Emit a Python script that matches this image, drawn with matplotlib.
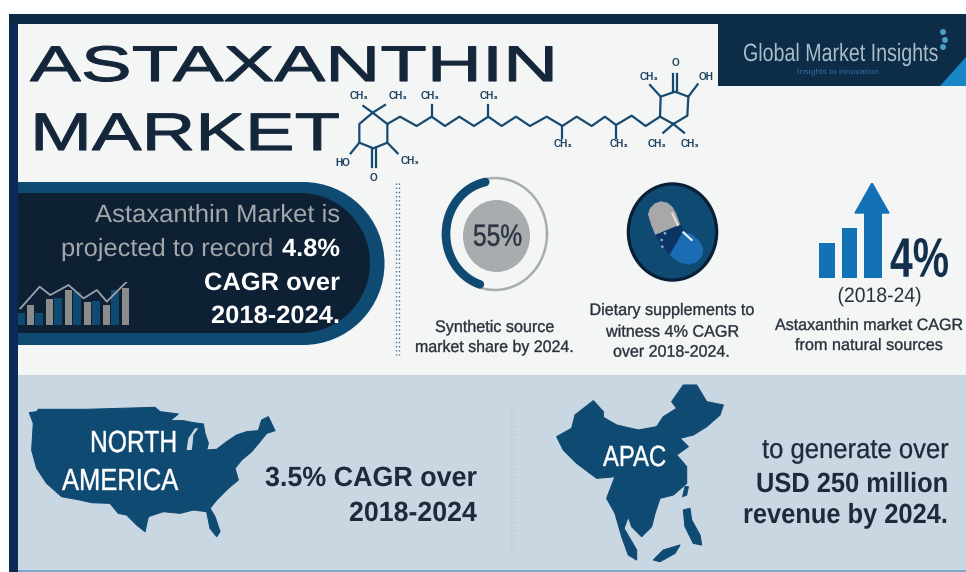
import numpy as np
import matplotlib
matplotlib.use("Agg")
import matplotlib.pyplot as plt
from matplotlib.patches import Rectangle, Circle, Ellipse, Polygon
from matplotlib.patheffects import AbstractPathEffect
from matplotlib.transforms import Affine2D

# ---- data ----
SYNTHETIC_SHARE_LABEL = "55%"
NATURAL_CAGR_LABEL = "4%"
mini_gray_bars = [60, 78, 105, 70, 60, 110]
mini_blue_bars = [35, 80, 98, 72, 105]
mini_line_x = [-0.52, 0.49, 1.05, 2.01, 2.8, 3.5, 4.02, 5.07]
mini_line_y = [50, 115, 90, 120, 80, 105, 70, 130]
trend_bars = [35, 50, 65]

W, H = 966, 572
NAVY = "#12263c"
BLUE = "#0f4a73"
BRIGHT = "#1272b5"
GRAY = "#a3a7a9"
TEXT = "#27313b"
SANS = "Liberation Sans"

fig = plt.figure(figsize=(W / 100, H / 100), dpi=100, facecolor="white")
ax = fig.add_axes([0, 0, 1, 1])
ax.set_xlim(0, W)
ax.set_ylim(H, 0)
ax.axis("off")


class HScale(AbstractPathEffect):
    """Stretch a text line horizontally about its anchor, optionally thickening it."""
    def __init__(self, sx, x0, stroke=0.0):
        super().__init__()
        self.sx, self.x0, self.stroke = sx, x0, stroke

    def draw_path(self, renderer, gc, tpath, affine, rgbFace=None):
        t = affine + Affine2D().translate(-self.x0, 0).scale(self.sx, 1).translate(self.x0, 0)
        g = renderer.new_gc()
        g.copy_properties(gc)
        if self.stroke > 0:
            g.set_linewidth(self.stroke)
            g.set_foreground(rgbFace)
        renderer.draw_path(g, tpath, t, rgbFace)
        g.restore()


renderer = fig.canvas.get_renderer()


def fit(x0, x1, base, s, size, color=TEXT, weight="normal", stroke=0.0, zorder=10):
    """Real text whose ink runs from x0 to x1 with the given baseline, in pixels."""
    xm = (x0 + x1) / 2
    t = ax.text(xm, base, s, fontsize=size, color=color, family=SANS, weight=weight,
                ha="center", va="baseline", zorder=zorder)
    w = t.get_window_extent(renderer).width
    anchor = ax.transData.transform((xm, base))[0]
    t.set_path_effects([HScale((x1 - x0) / w, anchor, stroke)])
    return t


def rect(x0, y0, x1, y1, c, z=1):
    ax.add_patch(Rectangle((x0, y0), x1 - x0, y1 - y0, fc=c, ec="none", zorder=z))


def inset(x0, y0, x1, y1):
    a = fig.add_axes([x0 / W, 1 - y1 / H, (x1 - x0) / W, (y1 - y0) / H], zorder=5)
    a.axis("off")
    a.patch.set_alpha(0)
    return a


# ---- backgrounds ----
rect(18, 24, W, 375, "#f4f5f5")
rect(18, 375, W, 570, "#c9d7e2")
rect(18, 570, W, 572, "#7fa7c9")
rect(9, 14, 18, 572, "#0a2a55", 4)
rect(9, 14, W, 24, "#0c2a45", 4)
rect(718, 14, W, 86, "#0c2c47", 4)
ax.add_patch(Polygon([(940, 86), (966, 86), (966, 57)], fc="#1a86c7", ec="none", zorder=5))
for (dx, dy) in [(943, 32), (945, 40), (943, 47)]:
    ax.add_patch(Circle((dx, dy), 3, fc="#4d9cc4", ec="none", zorder=5))

# ---- logo and title ----
fit(743, 938, 61, "Global Market Insights", 18, "#a9bcc8", zorder=6)
fit(797, 882, 74, "Insights to innovation.", 5.5, "#2d6f9a", zorder=6)
fit(30, 558, 81, "ASTAXANTHIN", 36, "#14263a", stroke=0.8)
fit(30, 340, 150, "MARKET", 38, "#14263a", stroke=0.8)

# ---- molecule ----
def mp(pts):
    a = np.array(pts, float)
    return a[:, 0] / 3 + 330, a[:, 1] / 3 + 50

mol = [
    [(172, 222), (128, 188), (88, 222), (88, 278), (130, 295), (172, 278), (172, 222)],
    [(128, 188), (100, 168)], [(128, 188), (165, 165)], [(172, 278), (203, 310)],
    [(125, 295), (125, 350)], [(137, 295), (137, 350)], [(88, 278), (62, 310)],
    [(172, 222), (210, 200), (260, 228), (305, 200), (345, 228), (388, 200), (432, 228),
     (475, 200), (515, 228), (558, 200), (600, 228), (650, 200), (697, 228), (740, 200),
     (785, 228), (825, 200), (858, 225), (905, 197), (947, 228), (990, 200)],
    [(305, 200), (305, 165)], [(475, 200), (475, 165)], [(697, 228), (697, 265)], [(858, 225), (858, 265)],
    [(990, 200), (992, 140), (1035, 125), (1075, 140), (1072, 197), (1030, 222), (990, 200)],
    [(992, 140), (960, 105)], [(1029, 125), (1029, 72)], [(1041, 125), (1041, 72)],
    [(1075, 140), (1103, 103)], [(1030, 222), (1000, 248)], [(1030, 222), (1062, 248)],
]
for seg in mol:
    xs, ys = mp(seg)
    ax.plot(xs, ys, color="#174a70", lw=1.6, solid_joinstyle="round", zorder=6)
labels = [(88, 138, "CH₃"), (205, 138, "CH₃"), (300, 138, "CH₃"), (478, 138, "CH₃"), (240, 332, "CH₃"),
          (700, 282, "CH₃"), (868, 282, "CH₃"), (982, 282, "CH₃"), (1080, 282, "CH₃"), (958, 80, "CH₃"),
          (1127, 80, "OH"), (1037, 40, "O"), (38, 338, "HO"), (132, 385, "O")]
for x, y, s in labels:
    ax.text(x / 3 + 330, y / 3 + 50, s, fontsize=7.2, color="#1e4260", weight="bold",
            family=[SANS, "DejaVu Sans"], ha="center", va="center", zorder=7)

# ---- pill ----
rect(18, 182, 303, 345, BLUE, 2)
ax.add_patch(Ellipse((303, 263.5), 163, 163, fc=BLUE, ec="none", zorder=2))
rect(18, 193, 300, 333, "#0e2034", 3)
ax.add_patch(Ellipse((300, 263), 140, 140, fc="#0e2034", ec="none", zorder=3))
fit(95, 340, 222, "Astaxanthin Market is", 18, GRAY)
fit(61, 273, 256, "projected to record", 18, GRAY)
fit(282, 340, 256, "4.8%", 18, "white", "bold")
fit(204, 340, 290, "CAGR over", 18, "white", "bold")
fit(211, 340, 323, "2018-2024.", 18, "white", "bold")

m = inset(17, 281.7, 130, 325)
m.set_xlim(-0.7, 5.24)
m.set_ylim(0, 130)
m.bar(np.arange(6), mini_gray_bars, width=0.39, color="#8c8c8c", zorder=2)
m.bar(np.arange(5) + 0.47, mini_blue_bars, width=0.42, color=BLUE, zorder=1)
m.bar([-0.47], [35], width=0.4, color=BLUE, zorder=1)
m.plot(mini_line_x, mini_line_y, color="#9aa3aa", lw=1.3, zorder=3)

# ---- dotted separators ----
for xd in (396, 399):
    ax.plot([xd, xd], [183, 355], color="#3f6f95", lw=1, ls=(0, (1, 2)), zorder=3)
for xd in (511, 514):
    ax.plot([xd, xd], [405, 555], color="#b6c6d2", lw=1, ls=(0, (1, 2)), zorder=3)

# ---- donut ----
th = np.radians(np.linspace(0, 360, 361))
ax.plot(495 + 52 * np.cos(th), 234 - 56 * np.sin(th), color="#a9adaf", lw=1.8, zorder=5)
th = np.radians(np.linspace(101.5, 252, 200))
ax.plot(495 + 49 * np.cos(th), 234 - 53 * np.sin(th), color=BLUE, lw=6.2,
        solid_capstyle="round", zorder=6)
ax.add_patch(Ellipse((496.5, 236), 67, 72, fc="#a9acae", ec="none", zorder=5))
fit(473, 522, 245.7, SYNTHETIC_SHARE_LABEL, 22, "#2a3442", stroke=0.3, zorder=7)
fit(435, 554.5, 332, "Synthetic source", 12, stroke=0.25)
fit(415, 574, 352, "market share by 2024.", 12, stroke=0.25)

# ---- capsule icon ----
ax.add_patch(Ellipse((672.5, 232), 91.6, 99.4, fc="#081f36", ec="none", zorder=5))
ax.add_patch(Ellipse((672.5, 232), 85, 93, fc=BLUE, ec="none", zorder=5))


def cp(pts):
    return [(x / 3 + 435, y / 3 + 175) for x, y in pts]


capsule_parts = [
    ([(640, 118), (646, 100), (660, 86), (678, 80), (697, 84), (712, 97), (722, 115), (735, 150),
      (662, 180), (650, 150)], "#a8a8aa"),
    ([(662, 180), (735, 150), (745, 165), (705, 240), (680, 210)], "#0c3566"),
    ([(705, 240), (745, 170), (772, 180), (792, 198), (804, 222), (800, 245), (782, 262), (760, 268),
      (735, 262)], "#1a6db3"),
]
for pts, c in capsule_parts:
    ax.add_patch(Polygon(cp(pts), fc=c, ec=c, lw=0.5, joinstyle="round", zorder=7))
for seg, c in [([(712, 115), (728, 150)], "#e8dcdc"), ([(745, 172), (770, 195)], "#eef3f7")]:
    (x0, y0), (x1, y1) = cp(seg)
    ax.plot([x0, x1], [y0, y1], color=c, lw=1.5, zorder=8)
for dx, dy in cp([(680, 195), (682, 215), (690, 175)]):
    ax.add_patch(Circle((dx, dy), 1.3, fc="#8fb0c8", ec="none", zorder=8))
fit(589.5, 754.5, 315, "Dietary supplements to", 12, stroke=0.25)
fit(606, 739, 336.7, "witness 4% CAGR", 12, stroke=0.25)
fit(613, 730, 356.7, "over 2018-2024.", 12, stroke=0.25)

# ---- trend icon ----
b = inset(815, 183, 893, 278)
b.set_xlim(815, 893)
b.set_ylim(0, 95)
b.bar([827, 849.5, 873], trend_bars, width=[16, 15, 18], color=BRIGHT, zorder=2)
b.fill([855, 872, 889], [65, 95, 65], color=BRIGHT, zorder=2)
fit(890, 949, 276.7, NATURAL_CAGR_LABEL, 40, "#12304c", "bold")
fit(837.5, 921.6, 302, "(2018-24)", 15)
fit(775, 963, 330, "Astaxanthin market CAGR", 11.8, stroke=0.25)
fit(795, 943, 350, "from natural sources", 11.8, stroke=0.25)

# ---- maps ----
na = [(28, 38), (50, 35), (55, 28), (200, 28), (405, 22), (420, 35), (475, 42), (450, 62), (490, 62),
      (520, 68), (550, 72), (555, 100), (565, 130), (560, 150), (590, 148), (620, 125), (650, 105),
      (680, 95), (715, 92), (725, 60), (745, 50), (765, 92), (740, 100), (720, 125), (695, 155),
      (665, 180), (645, 205), (655, 240), (625, 265), (590, 300), (570, 325), (585, 350), (600, 395),
      (590, 410), (570, 385), (560, 335), (520, 330), (480, 340), (430, 335), (385, 350), (375, 395),
      (350, 375), (320, 345), (295, 340), (270, 310), (215, 308), (180, 300), (125, 290), (80, 250),
      (50, 205), (35, 150), (40, 70)]
ax.add_patch(Polygon([(x / 3 + 20, y / 3 + 400) for x, y in na], fc=BLUE, ec=BLUE, lw=0.8,
                     joinstyle="round", zorder=5))
lake = [(505, 115), (525, 85), (535, 85), (520, 105), (518, 130), (515, 150), (500, 150)]
ax.add_patch(Polygon([(x / 3 + 20, y / 3 + 400) for x, y in lake], fc="#c9d7e2", ec="none", zorder=6))

apac_shapes = [
    [(20, 170), (65, 145), (75, 105), (130, 62), (160, 95), (160, 112), (200, 135), (265, 150),
     (320, 140), (340, 110), (380, 85), (365, 65), (400, 15), (440, 15), (470, 65), (520, 75),
     (510, 105), (470, 140), (430, 165), (390, 175), (415, 200), (380, 225), (410, 260), (410, 310),
     (370, 345), (330, 355), (315, 400), (305, 440), (275, 470), (245, 440), (235, 410), (222, 445),
     (260, 510), (260, 540), (235, 525), (215, 470), (195, 400), (170, 355), (195, 290), (140, 295),
     (80, 250), (40, 210)],
    [(405, 320), (415, 320), (410, 345), (398, 350)],
    [(400, 390), (420, 385), (425, 420), (450, 465), (455, 495), (430, 490), (405, 440)],
    [(310, 540), (340, 510), (390, 495), (375, 520), (330, 545)],
    [(305, 375), (320, 370), (322, 380), (310, 385)],
]
for sh in apac_shapes:
    ax.add_patch(Polygon([(x / 3 + 550, y / 3 + 380) for x, y in sh], fc=BLUE, ec=BLUE, lw=0.8,
                         joinstyle="round", zorder=5))

# ---- bottom text ----
fit(90, 177, 452, "NORTH", 22, "white", stroke=0.3, zorder=8)
fit(62, 178, 490, "AMERICA", 22, "white", stroke=0.3, zorder=8)
fit(603, 666, 466, "APAC", 21, "white", stroke=0.3, zorder=8)
DARK = "#1c2a3a"
fit(265, 477, 486, "3.5% CAGR over", 20, DARK, "bold")
fit(349, 477, 521, "2018-2024", 20, DARK, "bold")
fit(762, 948, 458, "to generate over", 20, DARK, stroke=0.2)
fit(756, 948, 492, "USD 250 million", 20, DARK, "bold")
fit(743, 948, 523, "revenue by 2024.", 20, DARK, "bold")

fig.savefig("out.png", dpi=100, facecolor="white")
